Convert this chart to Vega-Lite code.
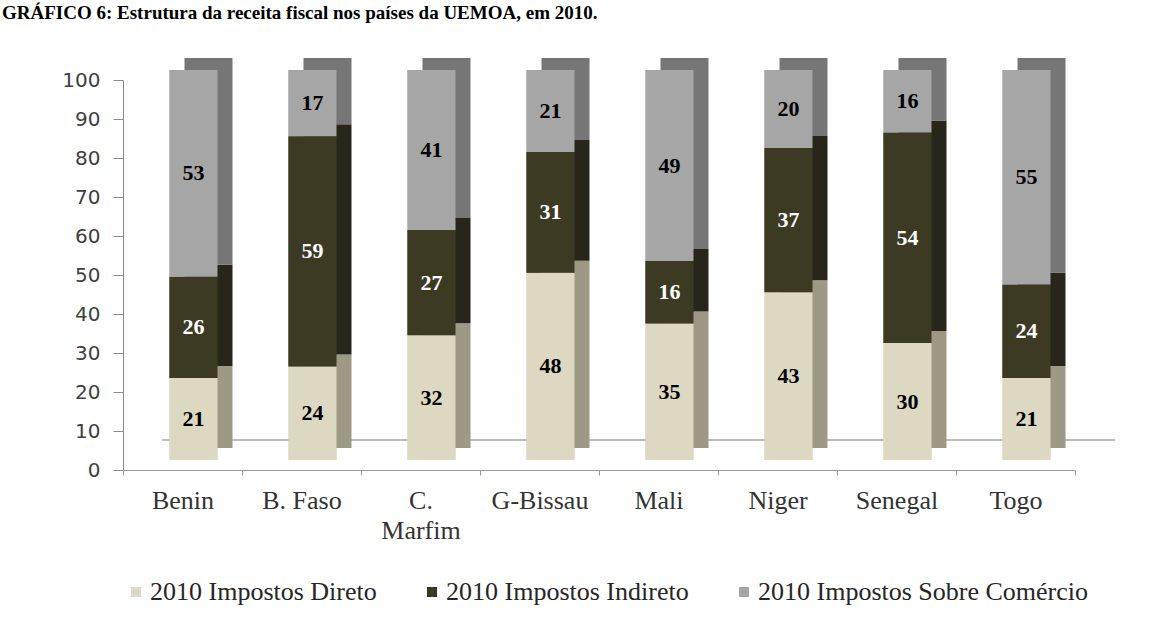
{
  "$schema": "https://vega.github.io/schema/vega-lite/v6.json",
  "width": 952,
  "height": 390,
  "autosize": {"type": "none"},
  "padding": {"left": 123, "top": 80, "right": 93, "bottom": 151},
  "background": "white",
  "title": {
    "text": "GRÁFICO 6: Estrutura da receita fiscal nos países da UEMOA, em 2010.",
    "anchor": "start",
    "frame": "group",
    "dx": -121,
    "dy": 27,
    "font": "Liberation Serif",
    "fontSize": 19,
    "fontWeight": "bold",
    "color": "black",
    "baseline": "alphabetic",
    "offset": 47
  },
  "data": {
    "values": [
      {"pais": "Benin", "serie": "2010 Impostos Direto", "valor": 21},
      {"pais": "Benin", "serie": "2010 Impostos Indireto", "valor": 26},
      {"pais": "Benin", "serie": "2010 Impostos Sobre Comércio", "valor": 53},
      {"pais": "B. Faso", "serie": "2010 Impostos Direto", "valor": 24},
      {"pais": "B. Faso", "serie": "2010 Impostos Indireto", "valor": 59},
      {"pais": "B. Faso", "serie": "2010 Impostos Sobre Comércio", "valor": 17},
      {"pais": "C. Marfim", "serie": "2010 Impostos Direto", "valor": 32},
      {"pais": "C. Marfim", "serie": "2010 Impostos Indireto", "valor": 27},
      {"pais": "C. Marfim", "serie": "2010 Impostos Sobre Comércio", "valor": 41},
      {"pais": "G-Bissau", "serie": "2010 Impostos Direto", "valor": 48},
      {"pais": "G-Bissau", "serie": "2010 Impostos Indireto", "valor": 31},
      {"pais": "G-Bissau", "serie": "2010 Impostos Sobre Comércio", "valor": 21},
      {"pais": "Mali", "serie": "2010 Impostos Direto", "valor": 35},
      {"pais": "Mali", "serie": "2010 Impostos Indireto", "valor": 16},
      {"pais": "Mali", "serie": "2010 Impostos Sobre Comércio", "valor": 49},
      {"pais": "Niger", "serie": "2010 Impostos Direto", "valor": 43},
      {"pais": "Niger", "serie": "2010 Impostos Indireto", "valor": 37},
      {"pais": "Niger", "serie": "2010 Impostos Sobre Comércio", "valor": 20},
      {"pais": "Senegal", "serie": "2010 Impostos Direto", "valor": 30},
      {"pais": "Senegal", "serie": "2010 Impostos Indireto", "valor": 54},
      {"pais": "Senegal", "serie": "2010 Impostos Sobre Comércio", "valor": 16},
      {"pais": "Togo", "serie": "2010 Impostos Direto", "valor": 21},
      {"pais": "Togo", "serie": "2010 Impostos Indireto", "valor": 24},
      {"pais": "Togo", "serie": "2010 Impostos Sobre Comércio", "valor": 55}
    ]
  },
  "encoding": {
    "x": {
      "field": "pais",
      "type": "nominal",
      "sort": null,
      "scale": {"paddingInner": 0, "paddingOuter": 0},
      "axis": {
        "title": null,
        "labelAngle": 0,
        "labelFont": "Liberation Serif",
        "labelFontSize": 26,
        "labelColor": "#333333",
        "labelPadding": 12,
        "labelLineHeight": 30,
        "labelExpr": "datum.value == 'C. Marfim' ? ['C.', 'Marfim'] : datum.value",
        "tickBand": "extent",
        "tickSize": 5,
        "tickColor": "#9a9a9a",
        "domainColor": "#9a9a9a",
        "grid": false
      }
    }
  },
  "layer": [
    {
      "transform": [
        {"stack": "valor", "groupby": ["pais"], "sort": [{"field": "serie", "order": "ascending"}], "as": ["y0", "y1"]}
      ],
      "mark": {"type": "bar", "width": 48, "xOffset": 11, "x2Offset": 11, "yOffset": -10, "y2Offset": -10},
      "encoding": {
        "y": {
          "field": "y0",
          "type": "quantitative",
          "title": null,
          "scale": {"domain": [0, 100], "nice": false, "zero": true},
          "axis": {
            "title": null,
            "values": [0, 10, 20, 30, 40, 50, 60, 70, 80, 90, 100],
            "labelOverlap": false
          }
        },
        "y2": {"field": "y1"},
        "color": {
          "field": "serie",
          "type": "nominal",
          "scale": {
            "domain": ["2010 Impostos Direto", "2010 Impostos Indireto", "2010 Impostos Sobre Comércio"],
            "range": ["#dcd8c2", "#3d3a24", "#a6a6a6"]
          },
          "legend": {
            "orient": "bottom",
            "direction": "horizontal",
            "title": null,
            "symbolType": "square",
            "symbolSize": 100,
            "symbolStrokeWidth": 0,
            "labelFont": "Liberation Serif",
            "labelFontSize": 26,
            "labelColor": "#262626",
            "labelLimit": 600,
            "labelOffset": 1,
            "columnPadding": 42,
            "offset": 36
          }
        }
      }
    },
    {
      "mark": {"type": "rule", "color": "#bdbdbd", "strokeWidth": 1.5, "yOffset": -30, "xOffset": -20, "x2Offset": 99},
      "encoding": {"x": {"datum": "Benin"}, "x2": {"datum": "Togo"}, "y": {"datum": 0, "type": "quantitative", "title": null, "axis": {"title": null, "values": [0, 10, 20, 30, 40, 50, 60, 70, 80, 90, 100], "labelOverlap": false}}}
    },
    {
      "transform": [
        {"stack": "valor", "groupby": ["pais"], "sort": [{"field": "serie", "order": "ascending"}], "as": ["y0", "y1"]}
      ],
      "mark": {"type": "bar", "width": 48, "xOffset": 26, "x2Offset": 26, "yOffset": -22, "y2Offset": -22},
      "encoding": {
        "y": {"field": "y0", "type": "quantitative", "title": null, "axis": {"title": null, "values": [0, 10, 20, 30, 40, 50, 60, 70, 80, 90, 100], "labelOverlap": false}},
        "y2": {"field": "y1"},
        "color": {
          "condition": [
            {"test": "datum.serie == '2010 Impostos Direto'", "value": "#9d9985"},
            {"test": "datum.serie == '2010 Impostos Indireto'", "value": "#28261a"}
          ],
          "value": "#767676"
        }
      }
    },
    {
      "transform": [
        {"stack": "valor", "groupby": ["pais"], "sort": [{"field": "serie", "order": "ascending"}], "as": ["y0", "y1"]}
      ],
      "mark": {"type": "bar", "width": 48, "xOffset": 11, "x2Offset": 11, "yOffset": -10, "y2Offset": -10},
      "encoding": {
        "y": {"field": "y0", "type": "quantitative", "title": null, "axis": {"title": null, "values": [0, 10, 20, 30, 40, 50, 60, 70, 80, 90, 100], "labelOverlap": false}},
        "y2": {"field": "y1"},
        "color": {"field": "serie", "type": "nominal"}
      }
    },
    {
      "transform": [
        {"stack": "valor", "groupby": ["pais"], "sort": [{"field": "serie", "order": "ascending"}], "as": ["y0", "y1"]},
        {"fold": ["y0", "y1"], "as": ["k", "v"]},
        {"aggregate": [{"op": "mean", "field": "v", "as": "ymid"}, {"op": "max", "field": "valor", "as": "rotulo"}], "groupby": ["pais", "serie"]}
      ],
      "mark": {"type": "text", "font": "Liberation Serif", "fontSize": 22, "fontWeight": "bold", "baseline": "middle", "align": "center", "xOffset": 11, "yOffset": -10},
      "encoding": {
        "y": {"field": "ymid", "type": "quantitative", "title": null, "axis": {"title": null, "values": [0, 10, 20, 30, 40, 50, 60, 70, 80, 90, 100], "labelOverlap": false}},
        "text": {"field": "rotulo", "type": "quantitative"},
        "color": {
          "condition": {"test": "datum.serie == '2010 Impostos Indireto'", "value": "#ffffff"},
          "value": "#000000"
        }
      }
    }
  ],
  "config": {
    "view": {"stroke": null},
    "axisY": {
      "labelFont": "DejaVu Sans",
      "labelFontSize": 20,
      "labelColor": "#404040",
      "labelPadding": 13,
      "tickSize": 10,
      "tickColor": "#8a8a8a",
      "domainColor": "#8a8a8a",
      "grid": false,
      "title": null
    }
  }
}
